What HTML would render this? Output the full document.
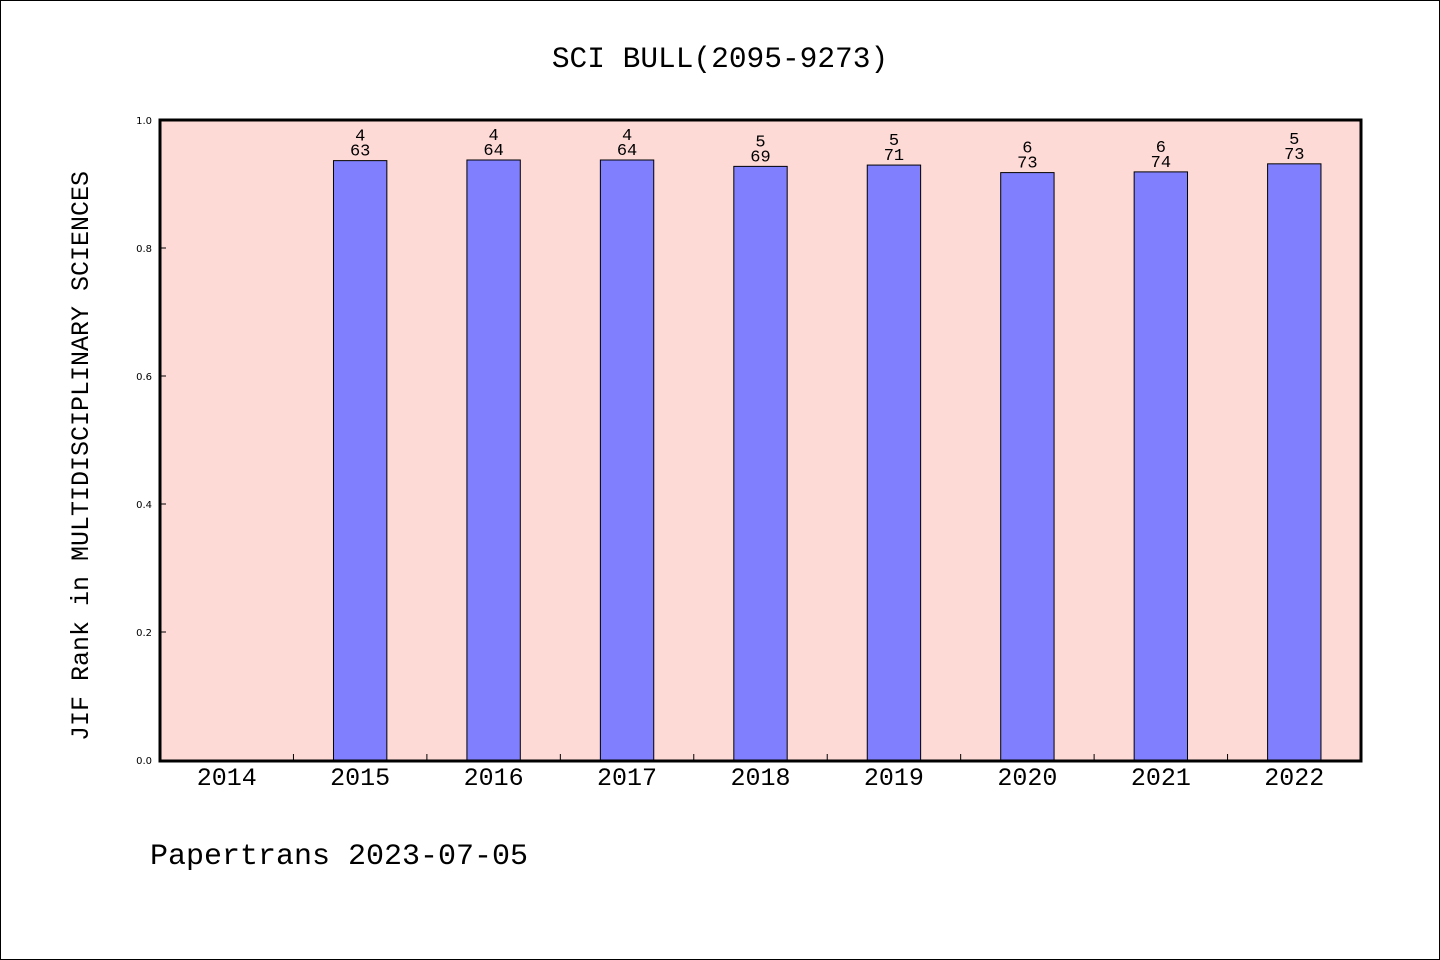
<!DOCTYPE html>
<html><head><meta charset="utf-8"><style>
body{margin:0;background:#fff}
svg{display:block}
text{font-family:"Liberation Mono","WenQuanYi Zen Hei",monospace;fill:#000}
.sm{font-family:"DejaVu Sans",sans-serif}
</style></head><body>
<svg id="chart" width="1440" height="960" xmlns="http://www.w3.org/2000/svg">
<rect x="0.5" y="0.5" width="1439" height="959" fill="#fff" stroke="#000"/>
<text x="720" y="67" font-size="29.5" text-anchor="middle">SCI BULL(2095-9273)</text>
<rect x="160" y="120" width="1201" height="641" fill="#fedad7"/>
<g id="bars"></g>
<g id="ticks"></g>
<rect x="160" y="120" width="1201" height="641" fill="none" stroke="#000" stroke-width="3"/>
<text transform="translate(88,456) rotate(-90)" font-size="25" text-anchor="middle">JIF Rank in MULTIDISCIPLINARY SCIENCES</text>
<text x="150" y="864" font-size="30">Papertrans 2023-07-05</text>
</svg>
<script>
const categories=["2014","2015","2016","2017","2018","2019","2020","2021","2022"];
const ranks=[null,4,4,4,5,5,6,6,5];
const totals=[null,63,64,64,69,71,73,74,73];
const yTicks=[0,0.2,0.4,0.6,0.8,1.0];
const NS="http://www.w3.org/2000/svg";
const x0=160,x1=1361,y0=760,y1=120;
const band=(x1-x0)/categories.length;
const xC=i=>x0+band*(i+0.5);
const yS=v=>y0-(y0-y1)*v;
function mk(tag,attrs,parent){const e=document.createElementNS(NS,tag);for(const k in attrs)e.setAttribute(k,attrs[k]);parent.appendChild(e);return e;}
const bars=document.getElementById('bars'),ticks=document.getElementById('ticks');
categories.forEach((c,i)=>{
  const lbl=mk('text',{x:xC(i),y:785,'font-size':25,'text-anchor':'middle'},ticks);
  lbl.textContent=c;
  
  
  if(i>0){const t=mk('line',{x1:x0+band*i,x2:x0+band*i,y1:y0,y2:y0-6,stroke:'#000'},ticks);
    
    }
  if(ranks[i]==null)return;
  const v=(totals[i]-ranks[i])/totals[i];
  const w=band*0.4;
  const r=mk('rect',{x:xC(i)-w/2,y:yS(v),width:w,height:y0-yS(v),fill:'#8080ff',stroke:'#000','stroke-width':1},bars);
  
  
  const a=mk('text',{x:xC(i),y:yS(v)-20,'font-size':17,'text-anchor':'middle'},bars);
  a.textContent=ranks[i];
  
  
  const b=mk('text',{x:xC(i),y:yS(v)-5,'font-size':17,'text-anchor':'middle'},bars);
  b.textContent=totals[i];
  
  
});
yTicks.forEach(v=>{
  const l=mk('text',{x:152,y:yS(v)+4,'font-size':10,'text-anchor':'end','class':'sm'},ticks);
  l.textContent=v.toFixed(1);
  
  
  const t=mk('line',{x1:x0,x2:x0+6,y1:yS(v),y2:yS(v),stroke:'#000'},ticks);
  
  
});
</script>
</body></html>
